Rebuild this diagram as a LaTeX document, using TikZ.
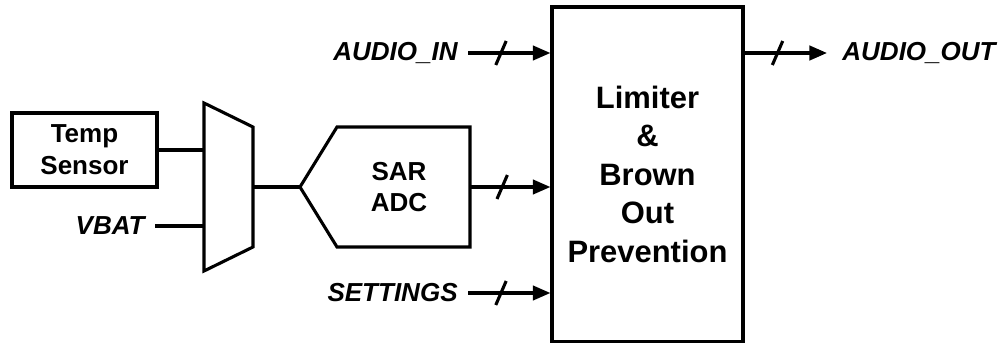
\documentclass[tikz,border=0pt]{standalone}
\usepackage{fontspec}
\setmainfont{Liberation Sans}
\usetikzlibrary{arrows.meta,decorations.markings}

\begin{document}
\begin{tikzpicture}[
        x=0.025cm, y=-0.025cm,
        block/.style={rectangle, draw=black, line width=2.2pt, text centered, align=center, inner sep=0pt, font=\fontsize{18.5}{22.6}\selectfont\bfseries},
        bigblock/.style={block, font=\fontsize{22}{27.4}\selectfont\bfseries},
        signal/.style={inner sep=0pt, outer sep=0.26cm, font=\fontsize{18.5}{22}\selectfont\bfseries\itshape},
        wire/.style={line width=2.2pt},
        arrow/.style={wire, -{Triangle[length=0.44cm, width=0.36cm]}},
        bus/.style={arrow, postaction={decorate}, decoration={markings, mark=at position 0.4 with {\draw[-, line width=2.2pt] (-0.13cm,-0.3cm) -- (0.13cm,0.3cm);}}}
    ]
        \useasboundingbox (0,0) rectangle (1002,343);

        % Sensor side
        \node[block, minimum width=3.625cm, minimum height=1.85cm] (temp) at (84.5,150) {Temp\\Sensor};
        \node[signal, anchor=east] (vbat) at (155,226) {VBAT};

        % Mux
        \draw[wire] (204,103) -- (253,127) -- (253,247) -- (204,271) -- cycle;
        \coordinate (mux_in1) at (204,150);
        \coordinate (mux_in2) at (204,226);
        \coordinate (mux_out) at (253,187);

        % SAR ADC
        \draw[wire] (300,187) -- (337,127) -- (470,127) -- (470,247) -- (337,247) -- cycle;
        \node[align=center, inner sep=0pt, font=\fontsize{18.5}{22.6}\selectfont\bfseries] (adc) at (399,187) {SAR\\ADC};
        \coordinate (adc_in) at (300,187);
        \coordinate (adc_out) at (470,187);

        % Limiter block
        \node[bigblock, minimum width=4.775cm, minimum height=8.35cm] (limiter) at (647.5,174) {Limiter\\\&\\Brown\\Out\\Prevention};

        % Signals
        \node[signal, anchor=east] (audio_in) at (468,53) {AUDIO\_IN};
        \node[signal, anchor=east] (settings) at (468,293) {SETTINGS};
        \coordinate (out_end) at (827,53);
        \node[signal, anchor=west] (audio_out) at (832,53) {AUDIO\_OUT};

        % Connections
        \draw[wire] (temp.east) -- (mux_in1);
        \draw[wire] (vbat.east) -- (mux_in2);
        \draw[wire] (mux_out) -- (adc_in);
        \draw[bus] (adc_out) -- (adc_out -| limiter.west);
        \draw[bus] (audio_in.east) -- (audio_in.east -| limiter.west);
        \draw[bus] (settings.east) -- (settings.east -| limiter.west);
        \draw[bus] (limiter.east |- out_end) -- (out_end);

    \end{tikzpicture}
\end{document}
